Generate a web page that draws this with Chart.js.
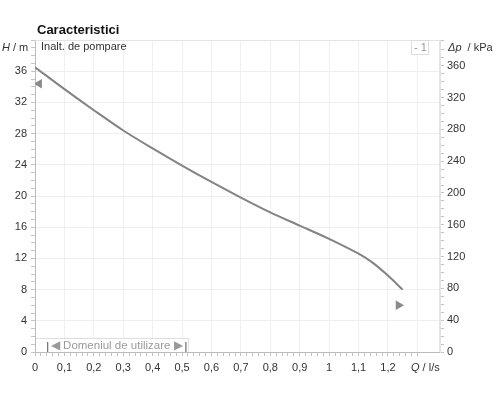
<!DOCTYPE html>
<html>
<head>
<meta charset="utf-8">
<script src="https://cdn.jsdelivr.net/npm/chart.js@4"></script>
<style>
  html, body { margin: 0; padding: 0; background: #fff; }
  #wrap { width: 500px; height: 400px; }
</style>
</head>
<body>
<div id="wrap"><canvas id="pumpChart" width="500" height="400"></canvas></div>
<script>
// pump curve
const flowQ = [0, 0.1, 0.2, 0.3, 0.4, 0.5, 0.6, 0.7, 0.8, 0.9, 1.0, 1.1, 1.15, 1.2, 1.25];
const headH = [36.5, 33.7, 31.0, 28.4, 26.1, 23.9, 21.8, 19.8, 17.9, 16.2, 14.5, 12.6, 11.4, 9.8, 8.0];

// triangle markers at both ends of the curve
const markerQ = [0.014, 1.236];
const markerH = [34.4, 6.0];
const markerRot = [-90, 90];

// range of use (l/s)
const domainRange = [0.043, 0.513];

const xMax = 1.377;
const hMax = 40;
const kPaPerMetre = 9.81;

const fontFam = "'Liberation Sans', Arial, sans-serif";
const tickFont = { family: fontFam, size: 11 };

function isStep(v, step) {
  const r = v / step;
  return Math.abs(r - Math.round(r)) < 1e-6;
}

const decorPlugin = {
  id: "decor",
  beforeDatasetsDraw(c) {
    const ctx = c.ctx;
    const a = c.chartArea;
    const x = c.scales.x, y = c.scales.y;
    ctx.save();
    // light frame on top / right
    ctx.strokeStyle = "#e4e4e4";
    ctx.lineWidth = 1;
    ctx.beginPath();
    ctx.moveTo(a.left, a.top + 0.5);
    ctx.lineTo(a.right - 0.5, a.top + 0.5);
    ctx.lineTo(a.right - 0.5, a.bottom);
    ctx.stroke();

    // range of use box
    const bx0 = a.left + 1;
    const bx1 = x.getPixelForValue(0.52);
    const by0 = y.getPixelForValue(1.8);
    const by1 = a.bottom - 1;
    ctx.fillStyle = "#fff";
    ctx.fillRect(bx0, by0, bx1 - bx0, by1 - by0);
    ctx.strokeStyle = "#dddddd";
    ctx.beginPath();
    ctx.moveTo(bx0, by0 + 0.5);
    ctx.lineTo(bx1 + 0.5, by0 + 0.5);
    ctx.lineTo(bx1 + 0.5, by1);
    ctx.stroke();
    const d0 = x.getPixelForValue(domainRange[0]);
    const d1 = x.getPixelForValue(domainRange[1]);
    ctx.strokeStyle = "#777";
    ctx.lineWidth = 1.3;
    ctx.beginPath();
    ctx.moveTo(d0, by0 + 4); ctx.lineTo(d0, a.bottom);
    ctx.moveTo(d1, by0 + 4); ctx.lineTo(d1, a.bottom);
    ctx.stroke();
    ctx.fillStyle = "#9a9a9a";
    ctx.font = "11.5px " + fontFam;
    ctx.textAlign = "center";
    ctx.textBaseline = "middle";
    ctx.fillText("◀ Domeniul de utilizare ▶", (d0 + d1) / 2, (by0 + a.bottom) / 2 + 1);

    // "- 1" box
    ctx.fillStyle = "#fff";
    ctx.fillRect(411, a.top + 1, 17, 14);
    ctx.strokeStyle = "#dddddd";
    ctx.lineWidth = 1;
    ctx.strokeRect(411.5, a.top + 0.5, 17, 14);
    ctx.fillStyle = "#999";
    ctx.font = "11px " + fontFam;
    ctx.textAlign = "left";
    ctx.fillText("- 1", 414, a.top + 8);
    ctx.restore();
  },
  afterDraw(c) {
    const ctx = c.ctx;
    ctx.save();
    ctx.textBaseline = "alphabetic";
    ctx.fillStyle = "#111";
    ctx.font = "bold 13px " + fontFam;
    ctx.textAlign = "left";
    ctx.fillText("Caracteristici", 37, 34);

    ctx.fillStyle = "#333";
    ctx.font = "11px " + fontFam;
    ctx.fillText("Inalt. de pompare", 41, 50);

    // left axis title: H / m
    ctx.textBaseline = "middle";
    ctx.font = "italic 11px " + fontFam;
    ctx.fillText("H", 2, 48);
    let w = ctx.measureText("H").width;
    ctx.font = "11px " + fontFam;
    ctx.fillText(" / m", 2 + w, 48);

    // right axis title: Δp / kPa
    ctx.font = "italic 11px " + fontFam;
    ctx.fillText("Δp", 448, 48);
    w = ctx.measureText("Δp").width;
    ctx.font = "11px " + fontFam;
    ctx.fillText("  / kPa", 448 + w, 48);

    // bottom axis title: Q / l/s
    ctx.font = "italic 11px " + fontFam;
    ctx.fillText("Q", 411, 368);
    w = ctx.measureText("Q").width;
    ctx.font = "11px " + fontFam;
    ctx.fillText(" / l/s", 411 + w, 368);
    ctx.restore();
  }
};

const curvePoints = flowQ.map((q, i) => ({ x: q, y: headH[i] }));
const markerPoints = markerQ.map((q, i) => ({ x: q, y: markerH[i] }));

new Chart(document.getElementById("pumpChart"), {
  type: "scatter",
  data: {
    datasets: [
      {
        label: "H",
        data: curvePoints,
        showLine: true,
        borderColor: "#838383",
        borderWidth: 2,
        pointRadius: 0,
        tension: 0.3,
        yAxisID: "y"
      },
      {
        label: "markers",
        data: markerPoints,
        showLine: false,
        pointStyle: "triangle",
        rotation: markerRot,
        pointRadius: 5.5,
        backgroundColor: "#8a8a8a",
        borderColor: "#8a8a8a",
        borderWidth: 0,
        yAxisID: "y"
      }
    ]
  },
  options: {
    responsive: false,
    animation: false,
    layout: { padding: { top: 40 } },
    plugins: {
      legend: { display: false },
      tooltip: { enabled: false }
    },
    scales: {
      x: {
        type: "linear",
        min: 0,
        max: xMax,
        afterFit: (s) => { s.height = 48; },
        border: { color: "#bbbbbb" },
        grid: {
          color: (ctx) => (ctx.tick && isStep(ctx.tick.value, 0.1) ? "#efefef" : "transparent"),
          tickColor: (ctx) => (ctx.tick && ctx.tick.value <= 1.3 + 1e-6 ? "#c4c4c4" : "transparent"),
          tickLength: 4
        },
        ticks: {
          stepSize: 0.02,
          autoSkip: false,
          maxRotation: 0,
          padding: 5,
          color: "#333",
          font: tickFont,
          callback: (v) => {
            if (!isStep(v, 0.1) || v > 1.25) return "";
            return String(Math.round(v * 10) / 10).replace(".", ",");
          }
        }
      },
      y: {
        type: "linear",
        position: "left",
        min: 0,
        max: hMax,
        afterFit: (s) => { s.width = 35; },
        border: { color: "#bbbbbb" },
        grid: {
          color: (ctx) => (ctx.tick && isStep(ctx.tick.value, 4) && ctx.tick.value > 0 ? "#efefef" : "transparent"),
          tickColor: "#c4c4c4",
          tickLength: 4
        },
        ticks: {
          stepSize: 1,
          autoSkip: false,
          padding: 4,
          color: "#333",
          font: tickFont,
          callback: (v) => (isStep(v, 4) && v < hMax ? String(v) : "")
        }
      },
      y2: {
        type: "linear",
        position: "right",
        min: 0,
        max: hMax * kPaPerMetre,
        afterFit: (s) => { s.width = 60; },
        border: { color: "#e4e4e4" },
        grid: {
          drawOnChartArea: false,
          tickColor: "#c4c4c4",
          tickLength: 4
        },
        ticks: {
          stepSize: 10,
          autoSkip: false,
          padding: 3,
          color: "#333",
          font: tickFont,
          callback: (v) => (isStep(v, 40) ? String(v) : "")
        }
      }
    }
  },
  plugins: [decorPlugin]
});
</script>
</body>
</html>
